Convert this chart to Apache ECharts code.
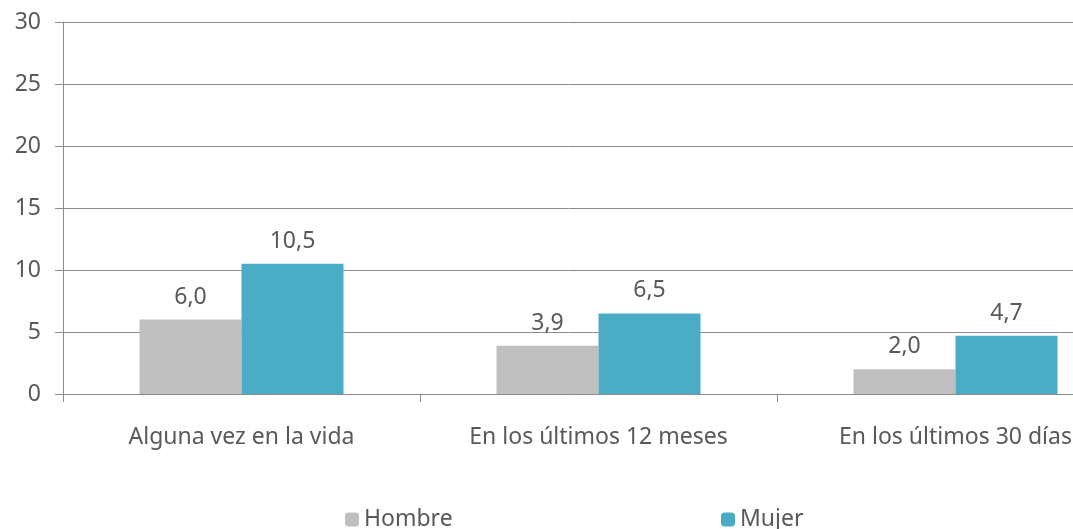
<!DOCTYPE html>
<html><head><meta charset="utf-8">
<script src="https://cdn.jsdelivr.net/npm/echarts@6/dist/echarts.min.js"></script>
<style>html,body{margin:0;padding:0;background:#fff}#c{width:1073px;height:529px}</style>
</head><body><div id="c"></div>
<script>
const categories = ["Alguna vez en la vida", "En los últimos 12 meses", "En los últimos 30 días"];
const hombre = [6.0, 3.9, 2.0];
const mujer = [10.5, 6.5, 4.7];
const seriesNames = ["Hombre", "Mujer"];
const yTicks = {min: 0, max: 30, interval: 5};

const FONT = "Noto Sans";
const FS = 23;
const TXT = "#595959";
const AX = "#8c8c8c";
const chart = echarts.init(document.getElementById('c'));
const lbl = {show: true, position: 'top', distance: 11, color: TXT, fontFamily: FONT, fontSize: FS,
  formatter: p => p.value.toFixed(1).replace('.', ',')};
chart.setOption({
  animation: false,
  backgroundColor: '#fff',
  grid: {left: 63, top: 22, width: 1071, height: 372, outerBoundsMode: 'none', containLabel: false},
  legend: [
    {data: [seriesNames[0]], left: 340, top: 503, itemWidth: 14, itemHeight: 14, itemGap: 7,
     textStyle: {color: TXT, fontFamily: FONT, fontSize: FS}},
    {data: [seriesNames[1]], left: 716, top: 503, itemWidth: 14, itemHeight: 14, itemGap: 7,
     textStyle: {color: TXT, fontFamily: FONT, fontSize: FS}}
  ],
  xAxis: {type: 'category', data: categories,
    axisLine: {lineStyle: {color: AX, width: 1}},
    axisTick: {show: true, length: 8, lineStyle: {color: AX}},
    axisLabel: {color: TXT, fontFamily: FONT, fontSize: FS, margin: 32}},
  yAxis: {type: 'value', min: yTicks.min, max: yTicks.max, interval: yTicks.interval,
    axisLine: {show: true, lineStyle: {color: AX, width: 1}},
    axisTick: {show: true, length: 8, lineStyle: {color: AX}},
    axisLabel: {color: TXT, fontFamily: FONT, fontSize: FS, margin: 22},
    splitLine: {lineStyle: {color: AX, width: 1}}},
  series: [
    {name: seriesNames[0], type: 'bar', data: hombre, barWidth: 102, barGap: '0%',
     itemStyle: {color: '#bfbfbf'}, label: lbl},
    {name: seriesNames[1], type: 'bar', data: mujer, barWidth: 102, barGap: '0%',
     itemStyle: {color: '#4bacc6'}, label: lbl}
  ]
});
</script></body></html>
